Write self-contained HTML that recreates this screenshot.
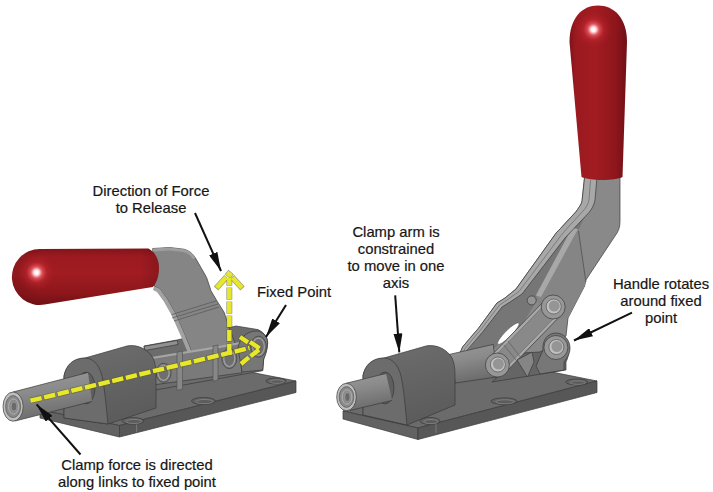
<!DOCTYPE html>
<html><head><meta charset="utf-8">
<style>
html,body{margin:0;padding:0;background:#fff;}
body{width:713px;height:492px;overflow:hidden;position:relative;}
svg{position:absolute;left:0;top:0;}
.t{position:absolute;font-family:"Liberation Sans",sans-serif;font-size:14.8px;color:#161616;line-height:17px;-webkit-text-stroke:0.2px #161616;text-align:center;white-space:nowrap;}
</style></head>
<body>
<svg width="713" height="492" viewBox="0 0 713 492">
<defs>
  <radialGradient id="hlL" cx="36.5" cy="272.5" r="19" gradientUnits="userSpaceOnUse">
    <stop offset="0" stop-color="#ffffff"/>
    <stop offset="0.12" stop-color="#fff0f0"/>
    <stop offset="0.3" stop-color="#e2545c" stop-opacity="0.95"/>
    <stop offset="0.55" stop-color="#bf2630" stop-opacity="0.55"/>
    <stop offset="1" stop-color="#a81c22" stop-opacity="0"/>
  </radialGradient>
  <radialGradient id="hlR" cx="593.5" cy="29.5" r="19" gradientUnits="userSpaceOnUse">
    <stop offset="0" stop-color="#ffffff"/>
    <stop offset="0.12" stop-color="#fff0f0"/>
    <stop offset="0.3" stop-color="#e2545c" stop-opacity="0.95"/>
    <stop offset="0.55" stop-color="#bf2630" stop-opacity="0.55"/>
    <stop offset="1" stop-color="#a81c22" stop-opacity="0"/>
  </radialGradient>
  <linearGradient id="redLg" x1="0" y1="248" x2="0" y2="305" gradientUnits="userSpaceOnUse">
    <stop offset="0" stop-color="#80131a"/>
    <stop offset="0.15" stop-color="#9c1a20"/>
    <stop offset="0.45" stop-color="#a01c21"/>
    <stop offset="0.8" stop-color="#8c161b"/>
    <stop offset="1" stop-color="#701015"/>
  </linearGradient>
  <linearGradient id="redLx" x1="12" y1="0" x2="162" y2="0" gradientUnits="userSpaceOnUse">
    <stop offset="0" stop-color="#000" stop-opacity="0.12"/>
    <stop offset="0.2" stop-color="#000" stop-opacity="0"/>
    <stop offset="0.85" stop-color="#000" stop-opacity="0"/>
    <stop offset="1" stop-color="#000" stop-opacity="0.15"/>
  </linearGradient>
  <linearGradient id="redRg" x1="569" y1="0" x2="627" y2="0" gradientUnits="userSpaceOnUse">
    <stop offset="0" stop-color="#7e1217"/>
    <stop offset="0.12" stop-color="#9a1a20"/>
    <stop offset="0.45" stop-color="#a11c21"/>
    <stop offset="0.8" stop-color="#8e161c"/>
    <stop offset="1" stop-color="#701015"/>
  </linearGradient>
  <linearGradient id="rodG" x1="0" y1="0" x2="0.25" y2="1">
    <stop offset="0" stop-color="#9a9a9a"/>
    <stop offset="0.45" stop-color="#8a8a8a"/>
    <stop offset="1" stop-color="#6c6c6c"/>
  </linearGradient>
  <linearGradient id="bossG" x1="0" y1="0" x2="0.3" y2="1">
    <stop offset="0" stop-color="#6e6e6e"/>
    <stop offset="1" stop-color="#5c5c5c"/>
  </linearGradient>
  <marker id="ah" viewBox="0 0 19 9" refX="19" refY="4.5" markerWidth="19" markerHeight="9" markerUnits="userSpaceOnUse" orient="auto">
    <path d="M0,0 L19,4.5 L0,9 Z" fill="#111"/>
  </marker>
  <clipPath id="clipRL"><path d="M40,249 L148.4,248.5 C155,252 159,259 159,267.7 C159,277 156,284 152.7,287 L44.6,304.6 A28,28 0 1 1 40,249 Z"/></clipPath>
</defs>

<!-- ================= RIGHT CLAMP ================= -->
<g stroke="#3a3a3a" stroke-width="0.7" stroke-linejoin="round">
  <!-- plate -->
  <path d="M343,411 L418,428 L597,381 L522,366 Z" fill="#6b6b6b"/>
  <path d="M343,411 L418,428 L418,439.5 L343,419 Z" fill="#626262"/>
  <path d="M418,428 L597,381 L597,392.5 L418,439.5 Z" fill="#575757"/>
  <path d="M436,423 L436,433" fill="none" stroke="#8a8a8a"/>
  <ellipse cx="430" cy="421" rx="10" ry="3.5" fill="#636363"/>
  <ellipse cx="431.0" cy="421.6" rx="7.0" ry="2.1" fill="#5c5c5c" stroke="#8c8c8c" stroke-width="0.7"/>
  <ellipse cx="504" cy="401.2" rx="13" ry="3.3" fill="#636363"/>
  <ellipse cx="505.0" cy="401.8" rx="9.1" ry="2.0" fill="#5c5c5c" stroke="#8c8c8c" stroke-width="0.7"/>
  <ellipse cx="576.8" cy="382" rx="11" ry="3" fill="#636363"/>
  <ellipse cx="577.8" cy="382.6" rx="7.7" ry="1.8" fill="#5c5c5c" stroke="#8c8c8c" stroke-width="0.7"/>

  <!-- fixed bracket (behind) -->
  <path d="M492,382 L538,340 C542,333 556,332 564,337 C570,342 570,354 566,362 L566,370 Z" fill="#656565"/>
  <!-- handle silhouette -->
  <path d="M584.6,177 L620,177 L620,221.5 C620,228 618,232 615,236 L585.9,280 L584.6,286 L568,318 L566,336 L540,352 L470,356 L459.8,353.5 L462.6,347 L469.7,338.5 L478.3,328.5 L497,303 L505,298 L516,289 L556.6,232.4 L560.2,228.8 L576,211.7 C580,206 582.2,203 582.2,199.5 Z" fill="#898989"/>
  <!-- dark inner face between bands -->
  <path d="M560.2,228.8 L576,211.7 L586,214 L578,231 L539,297 L520,328 L487,354 L468,351 L480,331 L506,303 L522,292 L563,236 Z" fill="#767676" stroke="none"/>
  <!-- front plate face -->
  <path d="M574,229 L578.5,231 L585.9,282 L584.6,286 L568,318 L545,320 L536,297 Z" fill="#858585" stroke="none"/>
  <path d="M578.5,231 L585.9,282" fill="none" stroke="#505050" stroke-width="0.8"/>
  <!-- band2 light -->
  <path d="M572,228 L578,229 L541,297 L535.8,295.5 Z" fill="#a8a8a8" stroke="none"/>
  <!-- band1 light along left edge -->
  <path d="M584.6,177 L597,177 L595,200 C594,205 592,209 589,212.5 L573,229.5 L565,238 L522,294 L510,302 L502,307 L483,331.5 L474.5,341.5 L467.5,349.5 L465,352.5 L459.8,353.5 L462.6,347 L469.7,338.5 L478.3,328.5 L497,303 L505,298 L516,289 L556.6,232.4 L560.2,228.8 L576,211.7 C580,206 582.2,203 582.2,199.5 Z" fill="#a8a8a8"/>
  <path d="M590.5,180 L589,200 C588,204 586,208 583,211 L567,228.5 L561,235.5 L519,291.5 L507,300 L499.5,305 L480.5,330 L472,340 L465,348.5 L462.5,353" fill="none" stroke="#6a6a6a" stroke-width="0.7"/>
  <!-- rod right part -->
  <path d="M449,354.5 L493.3,344.4 L497,377 L455.4,383 Z" fill="url(#rodG)"/>
  <!-- white slit -->
  <ellipse cx="508.3" cy="333.6" rx="15" ry="3.3" transform="rotate(-45 508.3 333.6)" fill="#ffffff" stroke="#555" stroke-width="0.6"/>
  <!-- link bar -->
  <path d="M489.5,357.34 L545.3,299.74 A11,11 0 0 1 561.1,315.06 L505.3,372.66 A11,11 0 0 1 489.5,357.34 Z" fill="#a9a9a9" stroke="#444" stroke-width="0.8"/>
  <path d="M491.66,359.43 L547.46,301.83 A8,8 0 0 1 558.94,312.97 L503.14,370.57 A8,8 0 0 1 491.66,359.43 Z" fill="#898989" stroke="#666" stroke-width="0.6"/>
  <path d="M503.8,344.9 L518.4,363 M508,341 L522,359" fill="none" stroke="#5e5e5e" stroke-width="0.7"/>
  <!-- cam tooth -->
  <path d="M517,360 L532,352 L534,362 L527.5,377 Z" fill="#858585"/>
  <!-- bracket front lower -->
  <path d="M543,350 C542,340 548,333 556,333 C564,333 570,340 570,348 C570,355 566,359 564,362 L564,370 L540,374 L536,366 Z" fill="#777777"/>
  <!-- pivots -->
  <circle cx="531.7" cy="300.4" r="4.5" fill="#949494"/>
  <circle cx="553.2" cy="307" r="12" fill="#979797"/>
  <circle cx="553.7" cy="306.5" r="7.5" fill="#c2c2c2" stroke="#555"/>
  <circle cx="554.2" cy="306" r="5.5" fill="#959595" stroke="none"/>
  <circle cx="555.9" cy="347.5" r="12" fill="#979797"/>
  <circle cx="556.4" cy="347" r="7.5" fill="#c2c2c2" stroke="#555"/>
  <circle cx="556.9" cy="346.5" r="5.5" fill="#959595" stroke="none"/>
  <circle cx="497.4" cy="365" r="12" fill="#979797"/>
  <circle cx="497.9" cy="364.5" r="7.5" fill="#c2c2c2" stroke="#555"/>
  <circle cx="498.4" cy="364" r="5.5" fill="#959595" stroke="none"/>

  <!-- boss -->
  <path d="M363,415 L363,375.5 C365,366 372,359 384,358 L426,346 C436,344 447,349 452,358 C455,365 455,371 455,377 L455,405 L407,425 Z" fill="url(#bossG)"/>
  <path d="M363,415 L363,375.5 C365,365 372,358 384,358 C394,358 400,368 402,381 C404,393 405,404 407,425 Z" fill="#6c6c6c"/>
  <ellipse cx="385" cy="388" rx="9" ry="16" fill="#5e5e5e"/>
  <!-- rod left -->
  <path d="M345.9,383.3 L386,373.5 L392.2,400.4 L350,410.5 Z" fill="url(#rodG)" stroke="none"/>
  <path d="M345.9,383.3 L386,373.5 M350,410.5 L392.2,400.4" fill="none"/>
  <ellipse cx="346.5" cy="397" rx="9.8" ry="13.7" fill="#bdbdbd"/>
  <ellipse cx="346.5" cy="397" rx="7.3" ry="10.4" fill="#8a8a8a" stroke="#555"/>
  <ellipse cx="347" cy="397" rx="4.9" ry="7.2" fill="none" stroke="#b0b0b0" stroke-width="1"/>
  <ellipse cx="347.4" cy="397" rx="2.7" ry="4.3" fill="#6a6a6a" stroke="#a0a0a0" stroke-width="0.8"/>
</g>
<!-- right red handle -->
<path d="M569.5,42 C569.5,18 582,5.5 598,5.5 C614,5.5 627,18 627,42 L622.5,177 C615,181 590,181 581.5,177 Z" fill="url(#redRg)"/>
<path d="M569.5,42 C569.5,18 582,5.5 598,5.5 C614,5.5 627,18 627,42 L622.5,177 C615,181 590,181 581.5,177 Z" fill="url(#hlR)"/>

<!-- ================= LEFT CLAMP ================= -->
<g stroke="#3a3a3a" stroke-width="0.7" stroke-linejoin="round">
  <!-- plate -->
  <path d="M40,410 L119.5,425.5 L296,381 L216.5,365.5 Z" fill="#6b6b6b"/>
  <path d="M40,410 L119.5,425.5 L119.5,437 L40,418 Z" fill="#626262"/>
  <path d="M119.5,425.5 L296,381 L296,392.5 L119.5,437 Z" fill="#575757"/>
  <path d="M136.6,421 L136.6,432" fill="none" stroke="#8a8a8a"/>
  <ellipse cx="132.9" cy="420.9" rx="11" ry="3.3" fill="#636363"/>
  <ellipse cx="133.9" cy="421.5" rx="7.7" ry="2.0" fill="#5c5c5c" stroke="#8c8c8c" stroke-width="0.7"/>
  <ellipse cx="203.5" cy="401" rx="12" ry="3.5" fill="#636363"/>
  <ellipse cx="204.5" cy="401.6" rx="8.4" ry="2.1" fill="#5c5c5c" stroke="#8c8c8c" stroke-width="0.7"/>
  <ellipse cx="276" cy="381" rx="10" ry="3" fill="#636363"/>
  <ellipse cx="277.0" cy="381.6" rx="7.0" ry="1.8" fill="#5c5c5c" stroke="#8c8c8c" stroke-width="0.7"/>
  <!-- housing back wall & bracket -->
  <path d="M144,346 L177,340 L236,326 L258,329.6 C265,333 268,338 267.6,344 C267,350 265,355 263.7,359 L262.7,370.7 L150,391 L150,391 Z" fill="#6c6c6c"/>
  <path d="M144,346.3 L177.3,340.4 L178,344.5 L145,350.5 Z" fill="#909090"/>
  <!-- handle -->
  <path d="M152.7,248.5 L169.7,247.5 L184,249.2 C190,251 193,254 195.3,257.8 C199,264 203,271 206.7,277.7 L211,290.8 L217,301 L224,312 L230,330 L236,346 L192,352.7 L187,340.6 L175,313 L167,299 L159.8,289 L154,286.2 Z" fill="#858585"/>
  <path d="M154,286.2 L159.8,289 L167,299 L175,313 L187,340.6 L192,352.7 L188,353 L183,341 L171.5,315 L163.5,301 L157,292 L153,290 Z" fill="#a2a2a2" stroke="none"/>
  <path d="M152.7,248.5 L169.7,247.5 L184,249.2 C190,251 193,254 195.3,257.8 L193,259 C191,256 188,253 183,252 L169.7,250.5 L153,251.5 Z" fill="#9e9e9e" stroke="none"/>
  <path d="M171.5,314.7 L216.4,300.8 M174,321 L219,307 M172,318 L218,304" fill="none" stroke="#555" stroke-width="0.7"/>
  <!-- link bar front -->
  <path d="M151.8,358 L222.5,346.3 L240,343 L242,372.8 L155.7,384.6 C150,380 149,366 151.8,358 Z" fill="#7a7a7a"/>
  <path d="M151.8,358 L222.5,346.3 L240,343" fill="none" stroke="#a6a6a6" stroke-width="2.2"/>
  <!-- ribs -->
  <path d="M177,352 L182.5,351 L182.5,389 L177,390.5 Z M213,346 L218,345 L218,380 L213,381.3 Z" fill="#878787" stroke="#555" stroke-width="0.7"/>
  <!-- fixed bracket front -->
  <path d="M238,348 C240,336 248,331 257.8,331 C265,333 268,338 267.6,344 C267,352 265,356 263.7,359 L262.7,370 L242,372 Z" fill="#777777"/>
  <!-- pivots (rings) -->
  <ellipse cx="163.6" cy="372.8" rx="7.5" ry="9.5" fill="#7a7a7a" stroke="#3c3c3c"/>
  <ellipse cx="163.6" cy="372.8" rx="5.5" ry="7.5" fill="#6e6e6e" stroke="#a0a0a0" stroke-width="1.2"/>
  <ellipse cx="229.3" cy="358.5" rx="7.5" ry="10" fill="#7a7a7a" stroke="#3c3c3c"/>
  <ellipse cx="229.3" cy="358.5" rx="5.5" ry="8" fill="#6e6e6e" stroke="#a0a0a0" stroke-width="1.2"/>
  <ellipse cx="258.5" cy="346.7" rx="7.8" ry="10.5" fill="#7a7a7a" stroke="#3c3c3c"/>
  <ellipse cx="258.5" cy="346.7" rx="5.8" ry="8.5" fill="#6e6e6e" stroke="#a0a0a0" stroke-width="1.2"/>
  <!-- boss -->
  <path d="M64,418 L64,376 C66,366 73,359 85,358 L127,346 C137,344 148,349 153,358 C156,365 156,371 156,377 L156,408 L108,424 Z" fill="url(#bossG)"/>
  <path d="M64,418 L64,376 C66,365 73,358 85,358 C95,358 101,368 103,381 C105,393 106,404 108,424 Z" fill="#6c6c6c"/>
  <ellipse cx="86" cy="388" rx="9" ry="16" fill="#5e5e5e"/>
  <!-- rod -->
  <path d="M13,392 L88,372.5 L92,401.5 L15,421 Z" fill="url(#rodG)" stroke="none"/>
  <path d="M13,392 L88,372.5 M15,421 L92,401.5" fill="none"/>
  <ellipse cx="13.1" cy="406.6" rx="10.1" ry="14.6" fill="#bdbdbd"/>
  <ellipse cx="13.1" cy="406.6" rx="7.5" ry="11" fill="#8a8a8a" stroke="#555"/>
  <ellipse cx="13.6" cy="406.6" rx="5" ry="7.5" fill="none" stroke="#b0b0b0" stroke-width="1"/>
  <ellipse cx="14" cy="406.6" rx="2.8" ry="4.5" fill="#6a6a6a" stroke="#a0a0a0" stroke-width="0.8"/>
</g>
<!-- left red handle -->
<path id="redLpath" d="M40,249 L148.4,248.5 C155,252 159,259 159,267.7 C159,277 156,284 152.7,287 L44.6,304.6 A28,28 0 1 1 40,249 Z" fill="url(#redLg)"/>
<path d="M40,249 L148.4,248.5 C155,252 159,259 159,267.7 C159,277 156,284 152.7,287 L44.6,304.6 A28,28 0 1 1 40,249 Z" fill="url(#redLx)"/>
<circle cx="36.5" cy="272.5" r="19" fill="url(#hlL)" clip-path="url(#clipRL)"/>

<!-- yellow dashed arrows -->
<g fill="none" stroke-linecap="butt">
  <g stroke="#5a5a28" stroke-opacity="0.55" stroke-width="6">
    <path d="M30.5,400.7 L249.5,348" stroke-dasharray="12.6,1.4" stroke-dashoffset="0.7"/>
    <path d="M229.3,355 L229.3,278" stroke-dasharray="12.4,1.6" stroke-dashoffset="0.8"/>
    <path d="M216,288.5 L226.5,277 M232,277 L242.5,288.5 M226.5,272 L232,276.5"/>
    <path d="M239.5,336.5 L248.5,342.5 M249.5,341.5 L260,348.5 M259.5,349.5 L250.5,356.5 M248.5,357 L240.5,364.5"/>
  </g>
  <g stroke="#e8e82a" stroke-width="4.4">
    <path d="M30.5,400.7 L249.5,348" stroke-dasharray="11.4,2.6"/>
    <path d="M229.3,355 L229.3,278" stroke-dasharray="11,3"/>
    <path d="M216.7,287.8 L226,277.6 M232.6,277.6 L241.8,287.8 M227,272.5 L231.5,276"/>
    <path d="M240,337 L248,342.3 M250,342 L259.5,348.3 M259,349.8 L250.5,356.3 M248.8,357.3 L241,364"/>
  </g>
</g>

<!-- black arrows -->
<g stroke="#111" stroke-width="2" fill="none">
  <line x1="195" y1="213" x2="221" y2="271" marker-end="url(#ah)"/>
  <line x1="286" y1="305" x2="266" y2="337" marker-end="url(#ah)"/>
  <line x1="80.5" y1="454.5" x2="36.6" y2="404.4" marker-end="url(#ah)"/>
  <line x1="395.2" y1="295.4" x2="399.3" y2="352.4" marker-end="url(#ah)"/>
  <line x1="632" y1="312.6" x2="574" y2="340.5" marker-end="url(#ah)"/>
</g>
</svg>

<div class="t" style="left:91px;top:183px;width:120px;">Direction of Force<br>to Release</div>
<div class="t" style="left:257px;top:284px;">Fixed Point</div>
<div class="t" style="left:52px;top:457px;width:170px;">Clamp force is directed<br>along links to fixed point</div>
<div class="t" style="left:346px;top:224px;width:100px;">Clamp arm is<br>constrained<br>to move in one<br>axis</div>
<div class="t" style="left:611px;top:276px;width:100px;">Handle rotates<br>around fixed<br>point</div>
</body></html>
